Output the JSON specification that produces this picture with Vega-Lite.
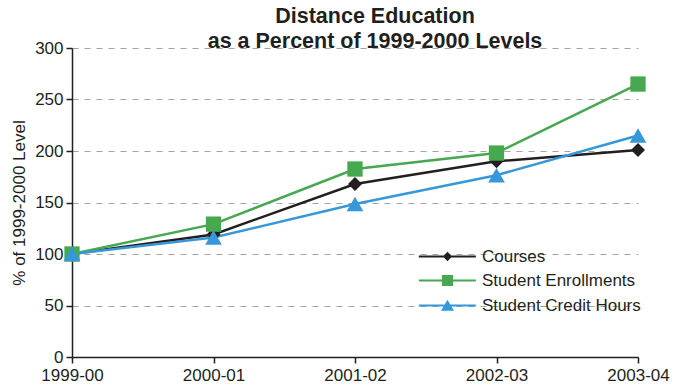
{
  "$schema": "https://vega.github.io/schema/vega-lite/v6.json",
  "width": 566,
  "height": 309,
  "autosize": "none",
  "padding": {"left": 72, "top": 48, "right": 36, "bottom": 33},
  "background": "white",
  "config": {
    "view": {"stroke": null},
    "font": "Liberation Sans"
  },
  "title": {
    "text": ["Distance Education", "as a Percent of 1999-2000 Levels"],
    "font": "Liberation Sans",
    "fontSize": 21.5,
    "fontWeight": "bold",
    "color": "#231f20",
    "anchor": "middle",
    "dx": 20,
    "lineHeight": 24.5,
    "baseline": "bottom",
    "offset": -35
  },
  "data": {
    "values": [
      {"year": "1999-00", "series": "Courses", "value": 100},
      {"year": "2000-01", "series": "Courses", "value": 119},
      {"year": "2001-02", "series": "Courses", "value": 168},
      {"year": "2002-03", "series": "Courses", "value": 190},
      {"year": "2003-04", "series": "Courses", "value": 201},
      {"year": "1999-00", "series": "Student Enrollments", "value": 100},
      {"year": "2000-01", "series": "Student Enrollments", "value": 129},
      {"year": "2001-02", "series": "Student Enrollments", "value": 182.5},
      {"year": "2002-03", "series": "Student Enrollments", "value": 198},
      {"year": "2003-04", "series": "Student Enrollments", "value": 265},
      {"year": "1999-00", "series": "Student Credit Hours", "value": 100},
      {"year": "2000-01", "series": "Student Credit Hours", "value": 116},
      {"year": "2001-02", "series": "Student Credit Hours", "value": 148.5},
      {"year": "2002-03", "series": "Student Credit Hours", "value": 176.5},
      {"year": "2003-04", "series": "Student Credit Hours", "value": 215}
    ]
  },
  "encoding": {
    "x": {
      "field": "year",
      "type": "ordinal",
      "sort": null,
      "scale": {"type": "point", "padding": 0},
      "axis": {
        "title": null,
        "labelAngle": 0,
        "labelFont": "Liberation Sans",
        "labelFontSize": 17,
        "labelColor": "#231f20",
        "labelPadding": 4,
        "domainColor": "#231f20",
        "domainWidth": 1.5,
        "tickColor": "#231f20",
        "tickWidth": 1.5,
        "tickSize": 6,
        "grid": false
      }
    },
    "y": {
      "field": "value",
      "type": "quantitative",
      "scale": {"domain": [0, 300], "nice": false, "zero": true},
      "axis": {
        "title": "% of 1999-2000 Level",
        "titleFont": "Liberation Sans",
        "titleFontSize": 17,
        "titleFontWeight": "normal",
        "titleColor": "#231f20",
        "titlePadding": 6,
        "values": [0, 50, 100, 150, 200, 250, 300],
        "labelFont": "Liberation Sans",
        "labelFontSize": 17,
        "labelColor": "#231f20",
        "labelPadding": 3,
        "domainColor": "#231f20",
        "domainWidth": 1.5,
        "tickColor": "#231f20",
        "tickWidth": 1.5,
        "tickSize": 6,
        "grid": true,
        "gridColor": "#a3a3a3",
        "gridDash": [6, 6],
        "gridWidth": 1
      }
    },
    "color": {
      "field": "series",
      "type": "nominal",
      "scale": {
        "domain": ["Courses", "Student Enrollments", "Student Credit Hours"],
        "range": ["#231f20", "#46a84f", "#3698d8"]
      },
      "legend": null
    }
  },
  "layer": [
    {
      "mark": {"type": "line", "strokeWidth": 2.5}
    },
    {
      "mark": {"type": "point", "filled": true, "opacity": 1},
      "encoding": {
        "shape": {
          "field": "series",
          "type": "nominal",
          "scale": {
            "domain": ["Courses", "Student Enrollments", "Student Credit Hours"],
            "range": ["diamond", "square", "triangle-up"]
          },
          "legend": null
        },
        "size": {
          "field": "series",
          "type": "nominal",
          "scale": {
            "type": "ordinal",
            "domain": ["Courses", "Student Enrollments", "Student Credit Hours"],
            "range": [196, 234, 279]
          },
          "legend": null
        }
      }
    },
    {
      "mark": {"type": "point", "filled": false, "opacity": 0, "strokeWidth": 2},
      "encoding": {
        "color": {
          "field": "series",
          "type": "nominal",
          "scale": {
            "domain": ["Courses", "Student Enrollments", "Student Credit Hours"],
            "range": ["#231f20", "#46a84f", "#3698d8"]
          },
          "legend": {
            "title": null,
            "orient": "none",
            "legendX": 367,
            "legendY": 200,
            "padding": 0,
            "labelFont": "Liberation Sans",
            "labelFontSize": 17,
            "labelColor": "#231f20",
            "labelOffset": 26,
            "rowPadding": 6,
            "symbolSize": 196,
            "symbolStrokeWidth": 2,
            "symbolOpacity": 1
          }
        },
        "shape": {
          "field": "series",
          "type": "nominal",
          "scale": {
            "domain": ["Courses", "Student Enrollments", "Student Credit Hours"],
            "range": [
              "M-4.1,0H4.05M0,-0.47L0.45,0L0,0.47L-0.45,0ZM0,-0.15L0.15,0L0,0.15L-0.15,0Z",
              "M-4.1,0H4.05M-0.66,-0.66H0.66V0.66H-0.66ZM-0.4,-0.4H0.4V0.4H-0.4ZM-0.14,-0.14H0.14V0.14H-0.14Z",
              "M-4.1,0H4.05M0,-0.55L0.68,0.6L-0.68,0.6ZM0,-0.09L0.27,0.37L-0.27,0.37Z"
            ]
          },
          "legend": {
            "title": null,
            "orient": "none",
            "legendX": 367,
            "legendY": 200,
            "padding": 0,
            "labelFont": "Liberation Sans",
            "labelFontSize": 17,
            "labelColor": "#231f20",
            "labelOffset": 26,
            "rowPadding": 6,
            "symbolSize": 196,
            "symbolStrokeWidth": 2,
            "symbolOpacity": 1
          }
        }
      }
    }
  ],
  "resolve": {"scale": {"shape": "independent", "color": "independent"}}
}
